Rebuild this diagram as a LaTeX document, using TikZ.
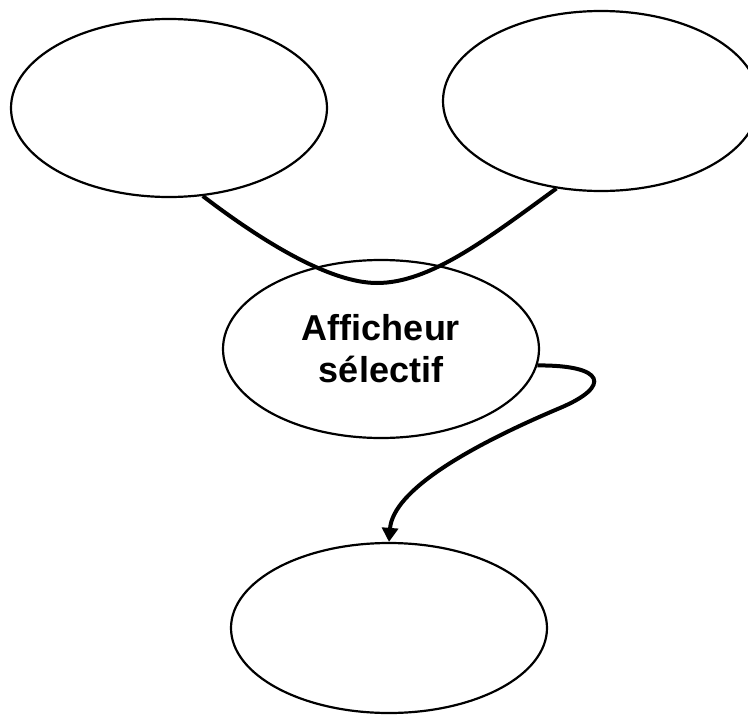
\documentclass[tikz,border=0pt]{standalone}
\usepackage{fontspec}
\setmainfont{Liberation Sans}
\usetikzlibrary{shapes.geometric,arrows.meta}
\begin{document}
\begin{tikzpicture}[x=1pt,y=-1pt,
  bubble/.style={draw=black, line width=2.2pt, ellipse, inner sep=0pt,
                 minimum width=316pt, minimum height=178pt},
  link/.style={draw=black, line width=4pt},
  bubbletext/.style={font=\fontsize{36}{42}\selectfont\bfseries, align=center}]
  \useasboundingbox (0,0) rectangle (748,715);

  % the four bubbles
  \node[bubble] (tl) at (169,108) {};
  \node[bubble, minimum height=180pt] (tr) at (601,101) {};
  \node[bubble, bubbletext] (mid) at (381,349) {Afficheur\\sélectif};
  \node[bubble, minimum height=170pt] (bot) at (389,628) {};

  % curved link joining the two upper bubbles
  \draw[link] (tl.-69) .. controls (263,242) and (330,283) .. (377,283)
              .. controls (430,283) and (487,239) .. (tr.-117);

  % arrow from the centre bubble down to the lower one
  \draw[link, -{Triangle[width=16pt,length=14pt]}]
        (mid.-6) .. controls (605,365) and (612,386) .. (560,408)
        .. controls (470,446) and (393,490) .. (bot.north);
\end{tikzpicture}
\end{document}
